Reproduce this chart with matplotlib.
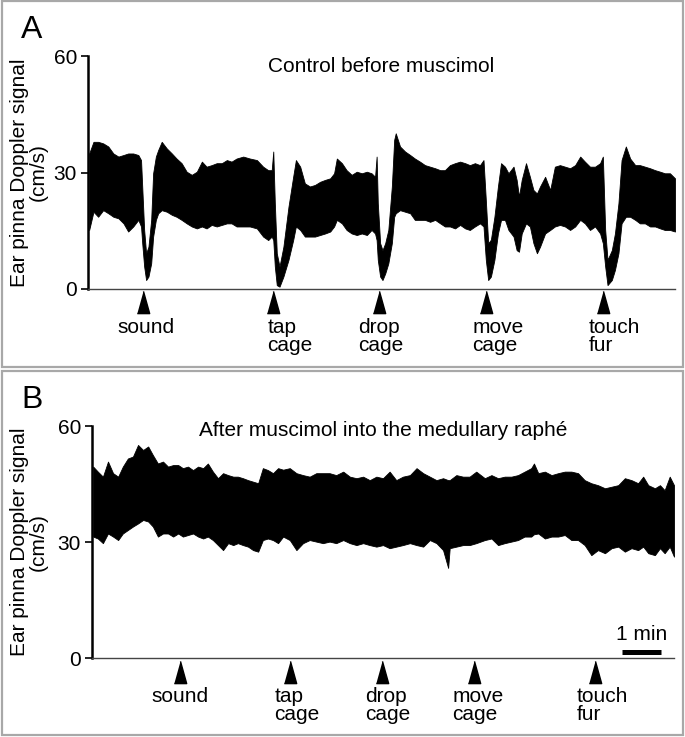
import matplotlib
matplotlib.use("Agg")
import matplotlib.pyplot as plt
from matplotlib.patches import Rectangle
import numpy as np

plt.rcParams['font.family'] = ['Liberation Sans', 'DejaVu Sans']

# --- Panel A: control before muscimol (time in min, envelope of signal in cm/s) ---
a_time = [0.03, 0.14, 0.26, 0.39, 0.52, 0.65, 0.78, 0.91, 1.03, 1.16, 1.29, 1.36, 1.39, 1.44, 1.49,
          1.55, 1.62, 1.67, 1.74, 1.80, 1.89, 2.02, 2.15, 2.27, 2.40, 2.53, 2.66, 2.79, 2.92, 3.04,
          3.17, 3.30, 3.43, 3.56, 3.68, 3.81, 3.98, 4.15, 4.33, 4.49, 4.62, 4.71, 4.75, 4.79, 4.84,
          4.91, 5.01, 5.14, 5.26, 5.33, 5.44, 5.56, 5.69, 5.82, 5.95, 6.08, 6.21, 6.31, 6.38, 6.51,
          6.63, 6.76, 6.89, 7.02, 7.15, 7.27, 7.36, 7.40, 7.43, 7.49, 7.55, 7.62, 7.70, 7.79, 7.85,
          7.89, 8.00, 8.13, 8.26, 8.38, 8.51, 8.64, 8.77, 8.90, 9.03, 9.15, 9.28, 9.41, 9.54, 9.67,
          9.79, 9.92, 10.05, 10.14, 10.20, 10.26, 10.33, 10.42, 10.51, 10.59, 10.69, 10.78, 10.91, 10.99, 11.05,
          11.12, 11.23, 11.33, 11.42, 11.51, 11.59, 11.72, 11.85, 11.97, 12.10, 12.23, 12.36, 12.49, 12.62, 12.74,
          12.87, 13.00, 13.13, 13.20, 13.26, 13.32, 13.43, 13.51, 13.60, 13.68, 13.79, 13.90, 14.03, 14.15, 14.28,
          14.41, 14.54, 14.67, 14.79, 14.92, 15.05]
a_upper = [34.9, 37.9, 37.9, 37.5, 36.7, 34.9, 34.1, 34.5, 34.9, 34.9, 34.5, 33.2, 26.4, 15.2, 9.2,
           10.9, 17.8, 29.8, 34.1, 35.8, 37.9, 36.2, 34.9, 33.6, 32.4, 30.2, 29.4, 30.2, 32.8, 31.5,
           31.9, 32.4, 32.4, 33.2, 32.8, 33.6, 34.1, 33.6, 33.2, 31.5, 30.6, 30.6, 35.4, 22.1, 9.2,
           5.8, 10.9, 21.2, 28.9, 33.2, 31.5, 27.2, 26.4, 26.8, 27.6, 28.1, 28.5, 29.8, 33.6, 32.4,
           30.6, 29.4, 30.2, 29.8, 30.2, 29.8, 28.9, 34.1, 22.1, 11.8, 10.0, 11.8, 15.2, 26.4, 38.4,
           40.1, 36.7, 35.4, 34.5, 33.6, 32.8, 31.9, 31.5, 31.1, 30.6, 30.6, 31.9, 32.4, 32.8, 32.4,
           31.9, 32.4, 31.9, 33.2, 22.9, 11.8, 12.7, 18.6, 26.4, 32.4, 31.5, 29.8, 31.5, 28.1, 23.8,
           28.1, 32.4, 28.9, 25.5, 24.6, 26.4, 28.9, 25.5, 31.5, 31.9, 31.5, 31.1, 31.9, 34.1, 32.8,
           31.5, 31.5, 32.4, 34.1, 15.2, 7.5, 10.0, 14.3, 22.1, 33.2, 36.7, 33.6, 31.9, 31.9, 31.5,
           31.1, 30.6, 30.2, 29.8, 29.8, 28.5]
a_lower = [15.2, 19.9, 18.6, 20.3, 19.5, 18.6, 18.2, 16.9, 14.8, 16.1, 17.8, 16.1, 11.8, 5.8, 2.3,
           3.2, 6.6, 13.5, 17.8, 19.5, 20.3, 19.9, 19.1, 18.6, 17.8, 16.9, 16.1, 15.6, 16.1, 15.6,
           16.5, 16.1, 16.5, 16.9, 16.9, 16.1, 16.1, 16.1, 15.6, 13.5, 12.6, 13.5, 12.6, 5.8, 1.0,
           0.6, 3.2, 7.5, 12.6, 16.1, 15.2, 13.5, 13.5, 13.5, 13.9, 14.3, 14.8, 16.1, 17.8, 16.9,
           15.2, 14.3, 13.9, 14.3, 13.9, 15.2, 14.3, 12.6, 7.5, 3.2, 2.3, 4.0, 6.6, 11.8, 18.6,
           19.5, 20.3, 19.9, 19.5, 17.8, 17.8, 17.8, 17.3, 17.8, 16.9, 16.1, 16.1, 15.6, 16.5, 15.6,
           15.2, 16.1, 16.9, 16.1, 7.5, 2.3, 3.2, 7.5, 14.3, 17.8, 17.8, 15.2, 13.5, 10.0, 9.6,
           14.3, 16.9, 16.1, 11.8, 9.2, 10.9, 14.3, 15.2, 16.1, 16.5, 16.1, 15.2, 16.1, 17.8, 16.9,
           15.2, 16.1, 14.3, 11.8, 5.8, 1.0, 2.3, 4.9, 9.2, 16.9, 18.6, 18.6, 17.8, 16.9, 16.9,
           16.1, 16.1, 15.6, 15.2, 15.2, 14.8]

# --- Panel B: after muscimol into the medullary raphe ---
b_time = [0.03, 0.15, 0.28, 0.41, 0.54, 0.67, 0.79, 0.92, 1.05, 1.18, 1.31, 1.44, 1.56, 1.69, 1.82,
          1.95, 2.08, 2.21, 2.33, 2.46, 2.59, 2.72, 2.85, 2.97, 3.10, 3.23, 3.36, 3.49, 3.62, 3.74,
          3.87, 4.00, 4.13, 4.26, 4.38, 4.51, 4.64, 4.77, 4.90, 5.07, 5.24, 5.41, 5.58, 5.75, 5.92,
          6.09, 6.26, 6.44, 6.61, 6.78, 6.95, 7.12, 7.29, 7.46, 7.63, 7.80, 7.97, 8.15, 8.32, 8.49,
          8.66, 8.83, 9.00, 9.13, 9.17, 9.34, 9.51, 9.68, 9.85, 10.07, 10.24, 10.41, 10.58, 10.75, 10.92,
          11.09, 11.26, 11.33, 11.44, 11.61, 11.78, 11.95, 12.12, 12.29, 12.46, 12.63, 12.80, 12.97, 13.15, 13.32,
          13.49, 13.66, 13.83, 14.00, 14.13, 14.26, 14.43, 14.56, 14.68, 14.81, 14.92]
b_upper = [49.5, 48.2, 46.9, 50.8, 47.8, 46.9, 49.5, 51.6, 52.1, 55.1, 53.8, 54.7, 52.5, 50.3, 50.8,
           49.5, 49.9, 49.9, 49.1, 49.5, 48.6, 49.5, 49.1, 50.3, 48.2, 46.5, 47.8, 47.3, 46.9, 46.9,
           46.5, 46.0, 45.6, 45.2, 49.1, 48.6, 47.8, 49.1, 48.7, 49.1, 47.8, 47.3, 46.9, 47.8, 47.8,
           47.8, 47.3, 48.2, 46.9, 46.5, 46.9, 46.0, 46.9, 46.5, 48.2, 46.0, 46.9, 47.3, 49.1, 47.8,
           46.9, 46.0, 46.5, 46.0, 46.0, 47.3, 46.9, 46.9, 48.2, 46.5, 47.3, 46.5, 46.9, 46.9, 47.3,
           48.2, 49.1, 50.3, 47.8, 48.2, 47.3, 47.8, 48.2, 48.2, 47.8, 46.0, 45.2, 44.7, 43.9, 44.3,
           44.7, 46.5, 46.0, 45.2, 46.9, 44.7, 43.9, 44.7, 43.4, 46.9, 44.7]
b_lower = [31.4, 30.9, 29.7, 32.2, 31.4, 30.5, 32.2, 33.1, 34.0, 34.8, 35.7, 35.3, 34.0, 31.4, 32.2,
           32.2, 31.4, 32.2, 31.4, 31.8, 32.2, 31.4, 30.9, 31.4, 30.5, 29.2, 27.9, 29.7, 29.2, 29.7,
           29.2, 28.8, 27.9, 27.5, 30.5, 30.9, 30.5, 29.7, 31.4, 30.5, 27.9, 29.7, 30.5, 30.1, 29.7,
           30.1, 29.7, 30.5, 29.7, 29.2, 29.7, 29.2, 28.8, 29.2, 28.4, 28.8, 29.2, 29.7, 29.2, 28.8,
           30.5, 29.7, 27.9, 23.3, 28.4, 28.8, 29.2, 29.2, 29.7, 30.5, 30.9, 29.2, 29.7, 30.1, 30.5,
           31.4, 31.4, 32.0, 32.2, 30.9, 31.4, 31.4, 31.8, 30.5, 30.5, 29.2, 26.6, 27.9, 27.1, 28.4,
           28.8, 27.5, 28.4, 27.9, 28.8, 27.1, 26.6, 28.4, 27.1, 28.8, 26.2]

# stimulus events (min)
event_labels = ["sound", "tap\ncage", "drop\ncage", "move\ncage", "touch\nfur"]
a_events = [1.41, 4.74, 7.46, 10.21, 13.21]
b_events = [2.26, 5.08, 7.44, 9.79, 12.90]

FS = 15
fig = plt.figure(figsize=(6.85, 7.37), dpi=100)

# panel frames
for y0, h in [(1 - 367 / 737, 366 / 737), (2 / 737, 364 / 737)]:
    fig.patches.append(Rectangle((1.5 / 685, y0), 681 / 685, h, transform=fig.transFigure,
                                 fill=False, edgecolor='#a8a8a8', linewidth=1.6))


def draw_panel(rect, t, up, lo, events, xmax, title, title_y, letter, letter_y,
               tri_y, label_dx):
    ax = fig.add_axes(rect)
    ax.fill_between(t, lo, up, color='black', linewidth=0.6, edgecolor='black')
    ax.set_xlim(0, xmax)
    ax.set_ylim(0, 60)
    for s in ['top', 'right']:
        ax.spines[s].set_visible(False)
    ax.spines['left'].set_linewidth(1.8)
    ax.spines['bottom'].set_linewidth(1.0)
    ax.spines['bottom'].set_color('#444444')
    ax.set_xticks([])
    ax.set_yticks([0, 30, 60])
    ax.tick_params(axis='y', length=5, width=1.2, pad=3, labelsize=FS)

    ax.plot(events, [tri_y] * len(events), linestyle='none', color='black', clip_on=False,
            marker=[(-1, -1.8), (1, -1.8), (0, 1.8)], markersize=16)
    for ev, lab, dx in zip(events, event_labels, label_dx):
        ax.annotate(lab, xy=(ev, 0), xytext=(dx * 0.72, -21), textcoords='offset points',
                    ha='center', va='top', multialignment='left', fontsize=FS,
                    linespacing=0.9, annotation_clip=False)

    fig.text(ax.get_position().x0 + ax.get_position().width * 0.5, title_y, title,
             fontsize=FS, ha='center', va='baseline')
    fig.text(21 / 685, letter_y, letter, fontsize=23, ha='left', va='baseline')
    fig.text(29 / 685, ax.get_position().y0 + ax.get_position().height / 2,
             "Ear pinna Doppler signal\n(cm/s)", rotation=90, fontsize=FS,
             ha='center', va='center', multialignment='center', linespacing=0.95)
    return ax


axA = draw_panel([88 / 685, 1 - 289 / 737, 587 / 685, 233 / 737], a_time, a_upper, a_lower,
                 a_events, 15.05, "Control before muscimol", 1 - 72 / 737, "A", 1 - 38 / 737,
                 -3.4, [3.5, 17, 2, 12, 11])
axB = draw_panel([92 / 685, 1 - 658 / 737, 582 / 685, 232 / 737], b_time, b_upper, b_lower,
                 b_events, 14.92, "After muscimol into the medullary raphé", 1 - 436 / 737, "B",
                 1 - 408 / 737, -3.6, [0, 7, 6, 4, 7])

# scale bar: 1 min
axB.plot([13.59, 14.59], [1.55, 1.55], color='black', linewidth=3.6, solid_capstyle='butt')
axB.text(14.09, 4.6, "1 min", fontsize=FS, ha='center', va='baseline')

fig.savefig("out.png", dpi=100)
